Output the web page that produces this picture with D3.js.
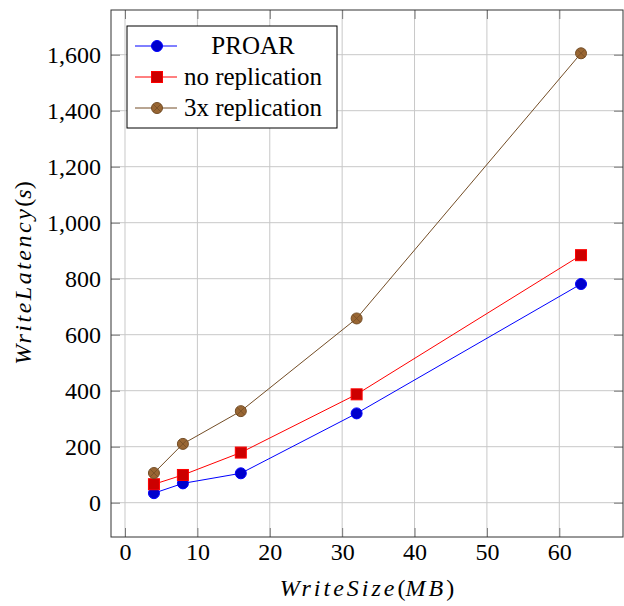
<!DOCTYPE html>
<html>
<head>
<meta charset="utf-8">
<script src="https://cdn.jsdelivr.net/npm/d3@7"></script>
<style>
  html, body { margin: 0; padding: 0; background: #fff; }
  svg { display: block; }
  svg text { font-family: "Liberation Serif", "Times New Roman", "DejaVu Serif", serif !important; fill: #000; }
</style>
</head>
<body>
<svg id="chart" width="624" height="606"></svg>
<script>
// ---- Data ----
const writeSizes = [4, 8, 16, 32, 63];
const proar = [34, 69, 105, 319, 781];
const noReplication = [66, 99, 179, 387, 884];
const threeXReplication = [106, 210, 327, 658, 1605];
const seriesNames = ["PROAR", "no replication", "3x replication"];
const xTickValues = [0, 10, 20, 30, 40, 50, 60];
const yTickValues = [0, 200, 400, 600, 800, 1000, 1200, 1400, 1600];

// ---- Layout ----
const plotL = 111, plotR = 623, plotT = 10, plotB = 537;
const svg = d3.select("#chart");

const x = d3.scaleLinear().domain([-1.934, 68.8]).range([plotL, plotR]);
const y = d3.scaleLinear().domain([-122.5, 1759.6]).range([plotB, plotT]);

const styles = [
  { line: "#0000ff", fill: "#0000cc", mark: "circle" },
  { line: "#ff0000", fill: "#cc0000", mark: "square" },
  { line: "#734d26", fill: "#996633", mark: "otimes" }
];
const seriesValues = [proar, noReplication, threeXReplication];

// ---- Grid ----
const grid = svg.append("g");
grid.selectAll("line.gx").data(xTickValues).join("line").attr("class", "gx")
  .attr("x1", d => x(d)).attr("x2", d => x(d))
  .attr("y1", plotT).attr("y2", plotB)
  .attr("stroke", "#c8c8c8").attr("stroke-width", 1);
grid.selectAll("line.gy").data(yTickValues).join("line").attr("class", "gy")
  .attr("x1", plotL).attr("x2", plotR)
  .attr("y1", d => y(d)).attr("y2", d => y(d))
  .attr("stroke", "#c8c8c8").attr("stroke-width", 1);

// ---- Axes (ticks inside, all four sides) ----
const tickLen = 9;
const xAxisB = d3.axisBottom(x).tickValues(xTickValues).tickSize(-tickLen).tickPadding(15);
const xAxisT = d3.axisTop(x).tickValues(xTickValues).tickSize(-tickLen).tickFormat("");
const yAxisL = d3.axisLeft(y).tickValues(yTickValues).tickSize(-tickLen).tickPadding(10).tickFormat(d3.format(","));
const yAxisR = d3.axisRight(y).tickValues(yTickValues).tickSize(-tickLen).tickFormat("");

function styleAxis(g) {
  g.select(".domain").remove();
  g.attr("font-family", null).attr("font-size", null);
  g.selectAll(".tick line").attr("stroke", "#777").attr("stroke-width", 1);
  g.selectAll(".tick text").style("font-size", "24px").attr("fill", "#000");
}
svg.append("g").attr("transform", `translate(0,${plotB})`).call(xAxisB).call(styleAxis)
  .selectAll(".tick text").attr("dy", "0.35em");
svg.append("g").attr("transform", `translate(0,${plotT})`).call(xAxisT).call(styleAxis);
svg.append("g").attr("transform", `translate(${plotL},0)`).call(yAxisL).call(styleAxis);
svg.append("g").attr("transform", `translate(${plotR},0)`).call(yAxisR).call(styleAxis);

// frame
svg.append("rect").attr("x", plotL).attr("y", plotT)
  .attr("width", plotR - plotL).attr("height", plotB - plotT)
  .attr("fill", "none").attr("stroke", "#333").attr("stroke-width", 1);

// ---- Markers ----
function drawMark(g, type, cx, cy, st) {
  if (type === "circle") {
    g.append("circle").attr("cx", cx).attr("cy", cy).attr("r", 5.5)
      .attr("fill", st.fill).attr("stroke", st.line).attr("stroke-width", 1);
  } else if (type === "square") {
    g.append("rect").attr("x", cx - 5.5).attr("y", cy - 5.5).attr("width", 11).attr("height", 11)
      .attr("fill", st.fill).attr("stroke", st.line).attr("stroke-width", 1);
  } else {
    const r = 5.5, k = r * Math.SQRT1_2;
    g.append("circle").attr("cx", cx).attr("cy", cy).attr("r", r)
      .attr("fill", st.fill).attr("stroke", st.line).attr("stroke-width", 1);
    g.append("path").attr("d", `M${cx - k},${cy - k}L${cx + k},${cy + k}M${cx - k},${cy + k}L${cx + k},${cy - k}`)
      .attr("stroke", st.line).attr("stroke-width", 0.8).attr("fill", "none");
  }
}

// ---- Lines ----
const lineGen = d3.line().x(d => x(d[0])).y(d => y(d[1]));
seriesValues.forEach((vals, i) => {
  const pts = writeSizes.map((w, j) => [w, vals[j]]);
  const st = styles[i];
  svg.append("path").attr("d", lineGen(pts))
    .attr("fill", "none").attr("stroke", st.line).attr("stroke-width", 1);
  const mg = svg.append("g");
  pts.forEach(p => drawMark(mg, st.mark, x(p[0]), y(p[1]), st));
});

// ---- Legend ----
const lg = svg.append("g");
lg.append("rect").attr("x", 127).attr("y", 26).attr("width", 210).attr("height", 102)
  .attr("fill", "#fff").attr("stroke", "#000").attr("stroke-width", 1);
seriesNames.forEach((name, i) => {
  const cy = 46 + i * 31;
  const st = styles[i];
  lg.append("line").attr("x1", 135).attr("x2", 177).attr("y1", cy).attr("y2", cy)
    .attr("stroke", st.line).attr("stroke-width", 1);
  drawMark(lg, st.mark, 157, cy, st);
  lg.append("text").attr("x", 253).attr("y", cy).attr("dy", "0.33em")
    .attr("text-anchor", "middle").style("font-size", "25px").text(name);
});

// ---- Axis labels ----
const xl = svg.append("text").attr("x", 367).attr("y", 596).attr("text-anchor", "middle")
  .style("font-size", "24px");
xl.append("tspan").style("font-style", "italic").attr("letter-spacing", "3").text("WriteSize");
xl.append("tspan").text("(");
xl.append("tspan").style("font-style", "italic").attr("letter-spacing", "3").text("MB");
xl.append("tspan").text(")");

const yl = svg.append("text").attr("transform", "translate(31,273) rotate(-90)").attr("text-anchor", "middle")
  .style("font-size", "24px");
yl.append("tspan").style("font-style", "italic").attr("letter-spacing", "2.5").text("WriteLatency");
yl.append("tspan").text("(");
yl.append("tspan").style("font-style", "italic").text("s");
yl.append("tspan").text(")");
</script>
</body>
</html>
